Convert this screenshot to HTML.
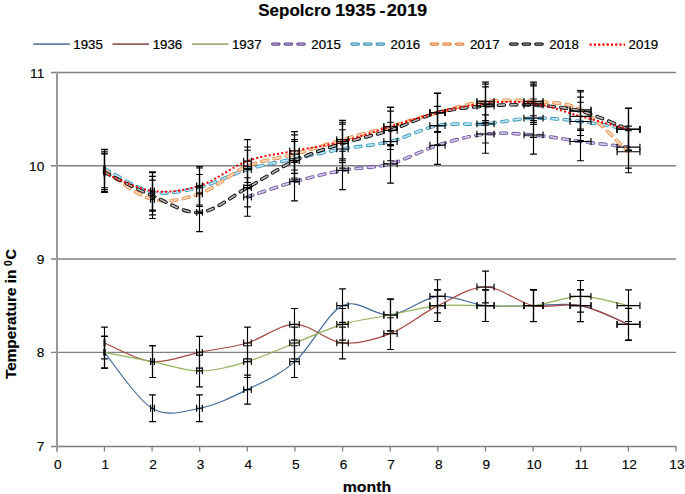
<!DOCTYPE html>
<html><head><meta charset="utf-8"><style>
html,body{margin:0;padding:0;background:#fff;width:685px;height:494px;overflow:hidden;font-family:"Liberation Sans",sans-serif;}
svg{display:block;}
</style></head><body>
<svg width="685" height="494" viewBox="0 0 685 494">
<path d="M51,72.48H676" stroke="#808080" stroke-width="1.3"/>
<path d="M51,165.75H676" stroke="#808080" stroke-width="1.3"/>
<path d="M51,259.02H676" stroke="#808080" stroke-width="1.3"/>
<path d="M51,352.29H676" stroke="#808080" stroke-width="1.3"/>
<path d="M51,446.50H676.5" stroke="#808080" stroke-width="1.3"/>
<path d="M56.80,446.50V451.50 M104.43,446.50V451.50 M152.06,446.50V451.50 M199.69,446.50V451.50 M247.32,446.50V451.50 M294.95,446.50V451.50 M342.58,446.50V451.50 M390.21,446.50V451.50 M437.84,446.50V451.50 M485.47,446.50V451.50 M533.10,446.50V451.50 M580.73,446.50V451.50 M628.36,446.50V451.50 M675.99,446.50V451.50" stroke="#808080" stroke-width="1.3"/>
<path d="M57,71.78V451.50" stroke="#9a9a9a" stroke-width="2"/>
<path d="M104.43,352.29 C112.37,361.62 136.18,398.92 152.06,408.25 C167.94,417.58 183.81,411.36 199.69,408.25 C215.57,405.14 231.44,397.37 247.32,389.60 C263.20,381.83 279.07,375.61 294.95,361.62 C310.83,347.63 326.70,313.43 342.58,305.65 C358.46,297.88 374.33,316.54 390.21,314.98 C406.09,313.43 421.96,297.88 437.84,296.33 C453.72,294.77 469.59,304.10 485.47,305.65 C501.35,307.21 517.22,305.65 533.10,305.65 C548.98,305.65 564.85,302.55 580.73,305.65 C596.61,308.76 620.42,321.20 628.36,324.31" stroke="#41699a" stroke-width="1.2" fill="none"/>
<path d="M104.50,336.43V368.15 M101.10,336.43H107.90 M101.10,368.15H107.90 M152.50,394.91V421.59 M149.10,394.91H155.90 M149.10,421.59H155.90 M150.59,408.25H154.41 M150.59,404.85V411.65 M154.41,404.85V411.65 M199.50,394.91V421.59 M196.10,394.91H202.90 M196.10,421.59H202.90 M196.64,408.25H202.36 M196.64,404.85V411.65 M202.36,404.85V411.65 M247.50,375.14V404.05 M244.10,375.14H250.90 M244.10,404.05H250.90 M243.69,389.60H251.31 M243.69,386.20V393.00 M251.31,386.20V393.00 M294.50,345.76V377.47 M291.10,345.76H297.90 M291.10,377.47H297.90 M289.74,361.62H299.26 M289.74,358.22V365.02 M299.26,358.22V365.02 M342.50,288.87V322.44 M339.10,288.87H345.90 M339.10,322.44H345.90 M336.78,305.65H348.22 M336.78,302.25V309.05 M348.22,302.25V309.05 M390.50,299.13V330.84 M387.10,299.13H393.90 M387.10,330.84H393.90 M383.83,314.98H397.17 M383.83,311.58V318.38 M397.17,311.58V318.38 M437.50,279.73V312.93 M434.10,279.73H440.90 M434.10,312.93H440.90 M429.88,296.33H445.12 M429.88,292.93V299.73 M445.12,292.93V299.73 M485.50,289.80V321.51 M482.10,289.80H488.90 M482.10,321.51H488.90 M476.93,305.65H494.07 M476.93,302.25V309.05 M494.07,302.25V309.05 M533.50,289.61V321.70 M530.10,289.61H536.90 M530.10,321.70H536.90 M523.97,305.65H543.03 M523.97,302.25V309.05 M543.03,302.25V309.05 M580.50,289.61V321.70 M577.10,289.61H583.90 M577.10,321.70H583.90 M570.02,305.65H590.98 M570.02,302.25V309.05 M590.98,302.25V309.05 M628.50,308.27V340.35 M625.10,308.27H631.90 M625.10,340.35H631.90 M617.07,324.31H639.93 M617.07,320.91V327.71 M639.93,320.91V327.71" stroke="#000" stroke-width="1.15" fill="none"/><path d="M103.85,348.89V355.69 M105.15,348.89V355.69" stroke="#000" stroke-width="0.7" fill="none"/>
<path d="M104.43,342.96 C112.37,346.07 136.18,360.06 152.06,361.62 C167.94,363.17 183.81,355.40 199.69,352.29 C215.57,349.18 231.44,347.63 247.32,342.96 C263.20,338.30 279.07,324.31 294.95,324.31 C310.83,324.31 326.70,341.41 342.58,342.96 C358.46,344.52 374.33,339.85 390.21,333.64 C406.09,327.42 421.96,313.43 437.84,305.65 C453.72,297.88 469.59,287.00 485.47,287.00 C501.35,287.00 517.22,302.55 533.10,305.65 C548.98,308.76 564.85,302.55 580.73,305.65 C596.61,308.76 620.42,321.20 628.36,324.31" stroke="#a8463f" stroke-width="1.2" fill="none"/>
<path d="M104.50,327.11V358.82 M101.10,327.11H107.90 M101.10,358.82H107.90 M152.50,345.76V377.47 M149.10,345.76H155.90 M149.10,377.47H155.90 M150.59,361.62H154.41 M150.59,358.22V365.02 M154.41,358.22V365.02 M199.50,336.43V368.15 M196.10,336.43H202.90 M196.10,368.15H202.90 M196.64,352.29H202.36 M196.64,348.89V355.69 M202.36,348.89V355.69 M247.50,327.11V358.82 M244.10,327.11H250.90 M244.10,358.82H250.90 M243.69,342.96H251.31 M243.69,339.56V346.36 M251.31,339.56V346.36 M294.50,308.45V340.16 M291.10,308.45H297.90 M291.10,340.16H297.90 M289.74,324.31H299.26 M289.74,320.91V327.71 M299.26,320.91V327.71 M342.50,327.11V358.82 M339.10,327.11H345.90 M339.10,358.82H345.90 M336.78,342.96H348.22 M336.78,339.56V346.36 M348.22,339.56V346.36 M390.50,317.78V349.49 M387.10,317.78H393.90 M387.10,349.49H393.90 M383.83,333.64H397.17 M383.83,330.24V337.04 M397.17,330.24V337.04 M437.50,289.80V321.51 M434.10,289.80H440.90 M434.10,321.51H440.90 M429.88,305.65H445.12 M429.88,302.25V309.05 M445.12,302.25V309.05 M485.50,271.15V302.86 M482.10,271.15H488.90 M482.10,302.86H488.90 M476.93,287.00H494.07 M476.93,283.60V290.40 M494.07,283.60V290.40 M533.50,289.80V321.51 M530.10,289.80H536.90 M530.10,321.51H536.90 M523.97,305.65H543.03 M523.97,302.25V309.05 M543.03,302.25V309.05 M580.50,289.80V321.51 M577.10,289.80H583.90 M577.10,321.51H583.90 M570.02,305.65H590.98 M570.02,302.25V309.05 M590.98,302.25V309.05 M628.50,308.45V340.16 M625.10,308.45H631.90 M625.10,340.16H631.90 M617.07,324.31H639.93 M617.07,320.91V327.71 M639.93,320.91V327.71" stroke="#000" stroke-width="1.15" fill="none"/><path d="M103.85,339.56V346.36 M105.15,339.56V346.36" stroke="#000" stroke-width="0.7" fill="none"/>
<path d="M104.43,352.29 C112.37,353.84 136.18,358.51 152.06,361.62 C167.94,364.73 183.81,370.94 199.69,370.94 C215.57,370.94 231.44,366.28 247.32,361.62 C263.20,356.95 279.07,349.18 294.95,342.96 C310.83,336.75 326.70,328.97 342.58,324.31 C358.46,319.65 374.33,318.09 390.21,314.98 C406.09,311.87 421.96,307.21 437.84,305.65 C453.72,304.10 469.59,305.65 485.47,305.65 C501.35,305.65 517.22,307.21 533.10,305.65 C548.98,304.10 564.85,296.33 580.73,296.33 C596.61,296.33 620.42,304.10 628.36,305.65" stroke="#92b05a" stroke-width="1.2" fill="none"/>
<path d="M104.50,336.43V368.15 M101.10,336.43H107.90 M101.10,368.15H107.90 M152.50,345.76V377.47 M149.10,345.76H155.90 M149.10,377.47H155.90 M150.59,361.62H154.41 M150.59,358.22V365.02 M154.41,358.22V365.02 M199.50,355.09V386.80 M196.10,355.09H202.90 M196.10,386.80H202.90 M196.64,370.94H202.36 M196.64,367.54V374.34 M202.36,367.54V374.34 M247.50,345.76V377.47 M244.10,345.76H250.90 M244.10,377.47H250.90 M243.69,361.62H251.31 M243.69,358.22V365.02 M251.31,358.22V365.02 M294.50,327.11V358.82 M291.10,327.11H297.90 M291.10,358.82H297.90 M289.74,342.96H299.26 M289.74,339.56V346.36 M299.26,339.56V346.36 M342.50,308.45V340.16 M339.10,308.45H345.90 M339.10,340.16H345.90 M336.78,324.31H348.22 M336.78,320.91V327.71 M348.22,320.91V327.71 M390.50,299.13V330.84 M387.10,299.13H393.90 M387.10,330.84H393.90 M383.83,314.98H397.17 M383.83,311.58V318.38 M397.17,311.58V318.38 M437.50,289.80V321.51 M434.10,289.80H440.90 M434.10,321.51H440.90 M429.88,305.65H445.12 M429.88,302.25V309.05 M445.12,302.25V309.05 M485.50,289.80V321.51 M482.10,289.80H488.90 M482.10,321.51H488.90 M476.93,305.65H494.07 M476.93,302.25V309.05 M494.07,302.25V309.05 M533.50,289.80V321.51 M530.10,289.80H536.90 M530.10,321.51H536.90 M523.97,305.65H543.03 M523.97,302.25V309.05 M543.03,302.25V309.05 M580.50,280.47V312.18 M577.10,280.47H583.90 M577.10,312.18H583.90 M570.02,296.33H590.98 M570.02,292.93V299.73 M590.98,292.93V299.73 M628.50,289.80V321.51 M625.10,289.80H631.90 M625.10,321.51H631.90 M617.07,305.65H639.93 M617.07,302.25V309.05 M639.93,302.25V309.05" stroke="#000" stroke-width="1.15" fill="none"/><path d="M103.85,348.89V355.69 M105.15,348.89V355.69" stroke="#000" stroke-width="0.7" fill="none"/>
<path d="M247.32,197.00 C255.26,194.43 279.07,186.04 294.95,181.61 C310.83,177.18 326.70,173.37 342.58,170.41 C358.46,167.46 374.33,168.08 390.21,163.88 C406.09,159.69 421.96,150.20 437.84,145.23 C453.72,140.26 469.59,135.75 485.47,134.04 C501.35,132.33 517.22,133.73 533.10,134.97 C548.98,136.21 564.85,139.48 580.73,141.50 C596.61,143.52 620.42,146.16 628.36,147.10" stroke="#6a4f9c" stroke-width="3.5" stroke-linecap="round" stroke-dasharray="5.9 6.6" fill="none"/>
<path d="M247.32,197.00 C255.26,194.43 279.07,186.04 294.95,181.61 C310.83,177.18 326.70,173.37 342.58,170.41 C358.46,167.46 374.33,168.08 390.21,163.88 C406.09,159.69 421.96,150.20 437.84,145.23 C453.72,140.26 469.59,135.75 485.47,134.04 C501.35,132.33 517.22,133.73 533.10,134.97 C548.98,136.21 564.85,139.48 580.73,141.50 C596.61,143.52 620.42,146.16 628.36,147.10" stroke="#d6cceb" stroke-width="1.8" stroke-linecap="round" stroke-dasharray="5.9 6.6" fill="none"/>
<path d="M247.50,177.78V216.21 M244.10,177.78H250.90 M244.10,216.21H250.90 M243.69,197.00H251.31 M243.69,193.60V200.40 M251.31,193.60V200.40 M294.50,162.39V200.82 M291.10,162.39H297.90 M291.10,200.82H297.90 M289.74,181.61H299.26 M289.74,178.21V185.01 M299.26,178.21V185.01 M342.50,151.20V189.63 M339.10,151.20H345.90 M339.10,189.63H345.90 M336.78,170.41H348.22 M336.78,167.01V173.81 M348.22,167.01V173.81 M390.50,144.67V183.10 M387.10,144.67H393.90 M387.10,183.10H393.90 M383.83,163.88H397.17 M383.83,160.48V167.28 M397.17,160.48V167.28 M437.50,126.02V164.44 M434.10,126.02H440.90 M434.10,164.44H440.90 M429.88,145.23H445.12 M429.88,141.83V148.63 M445.12,141.83V148.63 M485.50,114.82V153.25 M482.10,114.82H488.90 M482.10,153.25H488.90 M476.93,134.04H494.07 M476.93,130.64V137.44 M494.07,130.64V137.44 M533.50,115.76V154.18 M530.10,115.76H536.90 M530.10,154.18H536.90 M523.97,134.97H543.03 M523.97,131.57V138.37 M543.03,131.57V138.37 M580.50,122.29V160.71 M577.10,122.29H583.90 M577.10,160.71H583.90 M570.02,141.50H590.98 M570.02,138.10V144.90 M590.98,138.10V144.90 M628.50,126.11V168.08 M625.10,126.11H631.90 M625.10,168.08H631.90 M617.07,147.10H639.93 M617.07,143.70V150.50 M639.93,143.70V150.50" stroke="#000" stroke-width="1.15" fill="none"/>
<path d="M104.43,168.55 C112.37,172.43 136.18,188.76 152.06,191.87 C167.94,194.97 183.81,190.93 199.69,187.20 C215.57,183.47 231.44,174.22 247.32,169.48 C263.20,164.74 279.07,162.17 294.95,158.75 C310.83,155.33 326.70,151.84 342.58,148.96 C358.46,146.09 374.33,145.39 390.21,141.50 C406.09,137.61 421.96,128.60 437.84,125.64 C453.72,122.69 469.59,125.02 485.47,123.78 C501.35,122.53 517.22,118.57 533.10,118.18 C548.98,117.79 564.85,119.58 580.73,121.45 C596.61,123.31 620.42,128.05 628.36,129.37" stroke="#3597bd" stroke-width="3.5" stroke-linecap="round" stroke-dasharray="5.9 6.6" fill="none"/>
<path d="M104.43,168.55 C112.37,172.43 136.18,188.76 152.06,191.87 C167.94,194.97 183.81,190.93 199.69,187.20 C215.57,183.47 231.44,174.22 247.32,169.48 C263.20,164.74 279.07,162.17 294.95,158.75 C310.83,155.33 326.70,151.84 342.58,148.96 C358.46,146.09 374.33,145.39 390.21,141.50 C406.09,137.61 421.96,128.60 437.84,125.64 C453.72,122.69 469.59,125.02 485.47,123.78 C501.35,122.53 517.22,118.57 533.10,118.18 C548.98,117.79 564.85,119.58 580.73,121.45 C596.61,123.31 620.42,128.05 628.36,129.37" stroke="#c0e4f0" stroke-width="1.8" stroke-linecap="round" stroke-dasharray="5.9 6.6" fill="none"/>
<path d="M104.50,149.33V187.76 M101.10,149.33H107.90 M101.10,187.76H107.90 M152.50,172.65V211.08 M149.10,172.65H155.90 M149.10,211.08H155.90 M150.59,191.87H154.41 M150.59,188.47V195.27 M154.41,188.47V195.27 M199.50,167.99V206.42 M196.10,167.99H202.90 M196.10,206.42H202.90 M196.64,187.20H202.36 M196.64,183.80V190.60 M202.36,183.80V190.60 M247.50,150.27V188.69 M244.10,150.27H250.90 M244.10,188.69H250.90 M243.69,169.48H251.31 M243.69,166.08V172.88 M251.31,166.08V172.88 M294.50,139.54V177.97 M291.10,139.54H297.90 M291.10,177.97H297.90 M289.74,158.75H299.26 M289.74,155.35V162.15 M299.26,155.35V162.15 M342.50,129.75V168.18 M339.10,129.75H345.90 M339.10,168.18H345.90 M336.78,148.96H348.22 M336.78,145.56V152.36 M348.22,145.56V152.36 M390.50,122.29V160.71 M387.10,122.29H393.90 M387.10,160.71H393.90 M383.83,141.50H397.17 M383.83,138.10V144.90 M397.17,138.10V144.90 M437.50,106.43V144.86 M434.10,106.43H440.90 M434.10,144.86H440.90 M429.88,125.64H445.12 M429.88,122.24V129.04 M445.12,122.24V129.04 M485.50,104.56V142.99 M482.10,104.56H488.90 M482.10,142.99H488.90 M476.93,123.78H494.07 M476.93,120.38V127.18 M494.07,120.38V127.18 M533.50,98.97V137.40 M530.10,98.97H536.90 M530.10,137.40H536.90 M523.97,118.18H543.03 M523.97,114.78V121.58 M543.03,114.78V121.58 M580.50,102.23V140.66 M577.10,102.23H583.90 M577.10,140.66H583.90 M570.02,121.45H590.98 M570.02,118.05V124.85 M590.98,118.05V124.85 M628.50,108.39V150.36 M625.10,108.39H631.90 M625.10,150.36H631.90 M617.07,129.37H639.93 M617.07,125.97V132.77 M639.93,125.97V132.77" stroke="#000" stroke-width="1.15" fill="none"/><path d="M103.85,165.15V171.95 M105.15,165.15V171.95" stroke="#000" stroke-width="0.7" fill="none"/>
<path d="M104.43,170.41 C112.37,175.23 136.18,195.44 152.06,199.33 C167.94,203.21 183.81,199.25 199.69,193.73 C215.57,188.21 231.44,172.82 247.32,166.22 C263.20,159.61 279.07,158.52 294.95,154.09 C310.83,149.66 326.70,144.22 342.58,139.63 C358.46,135.05 374.33,131.08 390.21,126.58 C406.09,122.07 421.96,116.78 437.84,112.59 C453.72,108.39 469.59,103.26 485.47,101.39 C501.35,99.53 517.22,99.99 533.10,101.39 C548.98,102.79 564.85,101.39 580.73,109.79 C596.61,118.18 620.42,144.76 628.36,151.76" stroke="#ec8a42" stroke-width="3.5" stroke-linecap="round" stroke-dasharray="5.9 6.6" fill="none"/>
<path d="M104.43,170.41 C112.37,175.23 136.18,195.44 152.06,199.33 C167.94,203.21 183.81,199.25 199.69,193.73 C215.57,188.21 231.44,172.82 247.32,166.22 C263.20,159.61 279.07,158.52 294.95,154.09 C310.83,149.66 326.70,144.22 342.58,139.63 C358.46,135.05 374.33,131.08 390.21,126.58 C406.09,122.07 421.96,116.78 437.84,112.59 C453.72,108.39 469.59,103.26 485.47,101.39 C501.35,99.53 517.22,99.99 533.10,101.39 C548.98,102.79 564.85,101.39 580.73,109.79 C596.61,118.18 620.42,144.76 628.36,151.76" stroke="#fbdcc4" stroke-width="1.8" stroke-linecap="round" stroke-dasharray="5.9 6.6" fill="none"/>
<path d="M104.50,151.20V189.63 M101.10,151.20H107.90 M101.10,189.63H107.90 M152.50,180.11V218.54 M149.10,180.11H155.90 M149.10,218.54H155.90 M150.59,199.33H154.41 M150.59,195.93V202.73 M154.41,195.93V202.73 M199.50,174.52V212.94 M196.10,174.52H202.90 M196.10,212.94H202.90 M196.64,193.73H202.36 M196.64,190.33V197.13 M202.36,190.33V197.13 M247.50,147.00V185.43 M244.10,147.00H250.90 M244.10,185.43H250.90 M243.69,166.22H251.31 M243.69,162.82V169.62 M251.31,162.82V169.62 M294.50,134.88V173.30 M291.10,134.88H297.90 M291.10,173.30H297.90 M289.74,154.09H299.26 M289.74,150.69V157.49 M299.26,150.69V157.49 M342.50,120.42V158.85 M339.10,120.42H345.90 M339.10,158.85H345.90 M336.78,139.63H348.22 M336.78,136.23V143.03 M348.22,136.23V143.03 M390.50,107.36V145.79 M387.10,107.36H393.90 M387.10,145.79H393.90 M383.83,126.58H397.17 M383.83,123.18V129.98 M397.17,123.18V129.98 M437.50,93.37V131.80 M434.10,93.37H440.90 M434.10,131.80H440.90 M429.88,112.59H445.12 M429.88,109.19V115.99 M445.12,109.19V115.99 M485.50,82.18V120.61 M482.10,82.18H488.90 M482.10,120.61H488.90 M476.93,101.39H494.07 M476.93,97.99V104.79 M494.07,97.99V104.79 M533.50,82.18V120.61 M530.10,82.18H536.90 M530.10,120.61H536.90 M523.97,101.39H543.03 M523.97,97.99V104.79 M543.03,97.99V104.79 M580.50,90.57V129.00 M577.10,90.57H583.90 M577.10,129.00H583.90 M570.02,109.79H590.98 M570.02,106.39V113.19 M590.98,106.39V113.19 M628.50,130.77V172.75 M625.10,130.77H631.90 M625.10,172.75H631.90 M617.07,151.76H639.93 M617.07,148.36V155.16 M639.93,148.36V155.16" stroke="#000" stroke-width="1.15" fill="none"/><path d="M103.85,167.01V173.81 M105.15,167.01V173.81" stroke="#000" stroke-width="0.7" fill="none"/>
<path d="M104.43,172.28 C112.37,176.17 136.18,188.91 152.06,195.60 C167.94,202.28 183.81,213.71 199.69,212.38 C215.57,211.06 231.44,196.30 247.32,187.67 C263.20,179.04 279.07,168.00 294.95,160.62 C310.83,153.24 326.70,148.42 342.58,143.37 C358.46,138.31 374.33,135.44 390.21,130.31 C406.09,125.18 421.96,116.63 437.84,112.59 C453.72,108.54 469.59,107.30 485.47,106.06 C501.35,104.81 517.22,104.27 533.10,105.12 C548.98,105.98 564.85,107.15 580.73,111.19 C596.61,115.23 620.42,126.34 628.36,129.37" stroke="#000000" stroke-width="3.5" stroke-linecap="round" stroke-dasharray="5.9 6.6" fill="none"/>
<path d="M104.43,172.28 C112.37,176.17 136.18,188.91 152.06,195.60 C167.94,202.28 183.81,213.71 199.69,212.38 C215.57,211.06 231.44,196.30 247.32,187.67 C263.20,179.04 279.07,168.00 294.95,160.62 C310.83,153.24 326.70,148.42 342.58,143.37 C358.46,138.31 374.33,135.44 390.21,130.31 C406.09,125.18 421.96,116.63 437.84,112.59 C453.72,108.54 469.59,107.30 485.47,106.06 C501.35,104.81 517.22,104.27 533.10,105.12 C548.98,105.98 564.85,107.15 580.73,111.19 C596.61,115.23 620.42,126.34 628.36,129.37" stroke="#b4b4b4" stroke-width="1.8" stroke-linecap="round" stroke-dasharray="5.9 6.6" fill="none"/>
<path d="M104.50,153.07V191.49 M101.10,153.07H107.90 M101.10,191.49H107.90 M152.50,176.38V214.81 M149.10,176.38H155.90 M149.10,214.81H155.90 M150.59,195.60H154.41 M150.59,192.20V199.00 M154.41,192.20V199.00 M199.50,193.17V231.60 M196.10,193.17H202.90 M196.10,231.60H202.90 M196.64,212.38H202.36 M196.64,208.98V215.78 M202.36,208.98V215.78 M247.50,168.45V206.88 M244.10,168.45H250.90 M244.10,206.88H250.90 M243.69,187.67H251.31 M243.69,184.27V191.07 M251.31,184.27V191.07 M294.50,141.41V179.83 M291.10,141.41H297.90 M291.10,179.83H297.90 M289.74,160.62H299.26 M289.74,157.22V164.02 M299.26,157.22V164.02 M342.50,124.15V162.58 M339.10,124.15H345.90 M339.10,162.58H345.90 M336.78,143.37H348.22 M336.78,139.97V146.77 M348.22,139.97V146.77 M390.50,111.09V149.52 M387.10,111.09H393.90 M387.10,149.52H393.90 M383.83,130.31H397.17 M383.83,126.91V133.71 M397.17,126.91V133.71 M437.50,93.37V131.80 M434.10,93.37H440.90 M434.10,131.80H440.90 M429.88,112.59H445.12 M429.88,109.19V115.99 M445.12,109.19V115.99 M485.50,86.84V125.27 M482.10,86.84H488.90 M482.10,125.27H488.90 M476.93,106.06H494.07 M476.93,102.66V109.46 M494.07,102.66V109.46 M533.50,85.91V124.34 M530.10,85.91H536.90 M530.10,124.34H536.90 M523.97,105.12H543.03 M523.97,101.72V108.52 M543.03,101.72V108.52 M580.50,91.97V130.40 M577.10,91.97H583.90 M577.10,130.40H583.90 M570.02,111.19H590.98 M570.02,107.79V114.59 M590.98,107.79V114.59 M628.50,108.39V150.36 M625.10,108.39H631.90 M625.10,150.36H631.90 M617.07,129.37H639.93 M617.07,125.97V132.77 M639.93,125.97V132.77" stroke="#000" stroke-width="1.15" fill="none"/><path d="M103.85,168.88V175.68 M105.15,168.88V175.68" stroke="#000" stroke-width="0.7" fill="none"/>
<path d="M104.43,173.21 C112.37,176.17 136.18,188.83 152.06,190.93 C167.94,193.03 183.81,190.78 199.69,185.80 C215.57,180.83 231.44,166.92 247.32,161.09 C263.20,155.26 279.07,154.09 294.95,150.83 C310.83,147.56 326.70,145.54 342.58,141.50 C358.46,137.46 374.33,131.40 390.21,126.58 C406.09,121.76 421.96,116.47 437.84,112.59 C453.72,108.70 469.59,104.81 485.47,103.26 C501.35,101.70 517.22,101.08 533.10,103.26 C548.98,105.44 564.85,111.96 580.73,116.32 C596.61,120.67 620.42,127.20 628.36,129.37" stroke="#ff0000" stroke-width="2.0" stroke-dasharray="2.0 2.27" fill="none"/>
<path d="M104.50,154.00V192.43 M101.10,154.00H107.90 M101.10,192.43H107.90 M152.50,171.72V210.15 M149.10,171.72H155.90 M149.10,210.15H155.90 M150.59,190.93H154.41 M150.59,187.53V194.33 M154.41,187.53V194.33 M199.50,166.59V205.02 M196.10,166.59H202.90 M196.10,205.02H202.90 M196.64,185.80H202.36 M196.64,182.40V189.20 M202.36,182.40V189.20 M247.50,139.63V182.54 M244.10,139.63H250.90 M244.10,182.54H250.90 M243.69,161.09H251.31 M243.69,157.69V164.49 M251.31,157.69V164.49 M294.50,131.61V170.04 M291.10,131.61H297.90 M291.10,170.04H297.90 M289.74,150.83H299.26 M289.74,147.43V154.23 M299.26,147.43V154.23 M342.50,122.29V160.71 M339.10,122.29H345.90 M339.10,160.71H345.90 M336.78,141.50H348.22 M336.78,138.10V144.90 M348.22,138.10V144.90 M390.50,107.36V145.79 M387.10,107.36H393.90 M387.10,145.79H393.90 M383.83,126.58H397.17 M383.83,123.18V129.98 M397.17,123.18V129.98 M437.50,93.37V131.80 M434.10,93.37H440.90 M434.10,131.80H440.90 M429.88,112.59H445.12 M429.88,109.19V115.99 M445.12,109.19V115.99 M485.50,84.05V122.47 M482.10,84.05H488.90 M482.10,122.47H488.90 M476.93,103.26H494.07 M476.93,99.86V106.66 M494.07,99.86V106.66 M533.50,84.05V122.47 M530.10,84.05H536.90 M530.10,122.47H536.90 M523.97,103.26H543.03 M523.97,99.86V106.66 M543.03,99.86V106.66 M580.50,97.10V135.53 M577.10,97.10H583.90 M577.10,135.53H583.90 M570.02,116.32H590.98 M570.02,112.92V119.72 M590.98,112.92V119.72 M628.50,108.39V150.36 M625.10,108.39H631.90 M625.10,150.36H631.90 M617.07,129.37H639.93 M617.07,125.97V132.77 M639.93,125.97V132.77" stroke="#000" stroke-width="1.15" fill="none"/><path d="M103.85,169.81V176.61 M105.15,169.81V176.61" stroke="#000" stroke-width="0.7" fill="none"/>
<text transform="translate(44.3,77.68) scale(1.12,1)" text-anchor="end" font-size="12.2" stroke="#000" stroke-width="0.12" font-family="Liberation Sans, sans-serif">11</text>
<text transform="translate(44.3,170.95) scale(1.12,1)" text-anchor="end" font-size="12.2" stroke="#000" stroke-width="0.12" font-family="Liberation Sans, sans-serif">10</text>
<text transform="translate(44.3,264.22) scale(1.12,1)" text-anchor="end" font-size="12.2" stroke="#000" stroke-width="0.12" font-family="Liberation Sans, sans-serif">9</text>
<text transform="translate(44.3,357.49) scale(1.12,1)" text-anchor="end" font-size="12.2" stroke="#000" stroke-width="0.12" font-family="Liberation Sans, sans-serif">8</text>
<text transform="translate(44.3,450.76) scale(1.12,1)" text-anchor="end" font-size="12.2" stroke="#000" stroke-width="0.12" font-family="Liberation Sans, sans-serif">7</text>
<text transform="translate(57.70,468.6) scale(1.12,1)" text-anchor="middle" font-size="12.2" stroke="#000" stroke-width="0.12" font-family="Liberation Sans, sans-serif">0</text>
<text transform="translate(105.33,468.6) scale(1.12,1)" text-anchor="middle" font-size="12.2" stroke="#000" stroke-width="0.12" font-family="Liberation Sans, sans-serif">1</text>
<text transform="translate(152.96,468.6) scale(1.12,1)" text-anchor="middle" font-size="12.2" stroke="#000" stroke-width="0.12" font-family="Liberation Sans, sans-serif">2</text>
<text transform="translate(200.59,468.6) scale(1.12,1)" text-anchor="middle" font-size="12.2" stroke="#000" stroke-width="0.12" font-family="Liberation Sans, sans-serif">3</text>
<text transform="translate(248.22,468.6) scale(1.12,1)" text-anchor="middle" font-size="12.2" stroke="#000" stroke-width="0.12" font-family="Liberation Sans, sans-serif">4</text>
<text transform="translate(295.85,468.6) scale(1.12,1)" text-anchor="middle" font-size="12.2" stroke="#000" stroke-width="0.12" font-family="Liberation Sans, sans-serif">5</text>
<text transform="translate(343.48,468.6) scale(1.12,1)" text-anchor="middle" font-size="12.2" stroke="#000" stroke-width="0.12" font-family="Liberation Sans, sans-serif">6</text>
<text transform="translate(391.11,468.6) scale(1.12,1)" text-anchor="middle" font-size="12.2" stroke="#000" stroke-width="0.12" font-family="Liberation Sans, sans-serif">7</text>
<text transform="translate(438.74,468.6) scale(1.12,1)" text-anchor="middle" font-size="12.2" stroke="#000" stroke-width="0.12" font-family="Liberation Sans, sans-serif">8</text>
<text transform="translate(486.37,468.6) scale(1.12,1)" text-anchor="middle" font-size="12.2" stroke="#000" stroke-width="0.12" font-family="Liberation Sans, sans-serif">9</text>
<text transform="translate(534.00,468.6) scale(1.12,1)" text-anchor="middle" font-size="12.2" stroke="#000" stroke-width="0.12" font-family="Liberation Sans, sans-serif">10</text>
<text transform="translate(581.63,468.6) scale(1.12,1)" text-anchor="middle" font-size="12.2" stroke="#000" stroke-width="0.12" font-family="Liberation Sans, sans-serif">11</text>
<text transform="translate(629.26,468.6) scale(1.12,1)" text-anchor="middle" font-size="12.2" stroke="#000" stroke-width="0.12" font-family="Liberation Sans, sans-serif">12</text>
<text transform="translate(676.89,468.6) scale(1.12,1)" text-anchor="middle" font-size="12.2" stroke="#000" stroke-width="0.12" font-family="Liberation Sans, sans-serif">13</text>
<text transform="translate(342.7,492.2) scale(1.06,1)" font-size="15" font-weight="bold" stroke="#000" stroke-width="0.15" font-family="Liberation Sans, sans-serif">month</text>
<text transform="translate(258.3,15.5) scale(1.088,1)" font-size="15.6" font-weight="bold" stroke="#000" stroke-width="0.15" font-family="Liberation Sans, sans-serif">Sepolcro</text>
<text transform="translate(334.9,15.5) scale(1.178,1)" font-size="15.6" font-weight="bold" stroke="#000" stroke-width="0.15" font-family="Liberation Sans, sans-serif">1935</text>
<text transform="translate(379.6,15.5) scale(1.15,1)" font-size="15.6" font-weight="bold" stroke="#000" stroke-width="0.15" font-family="Liberation Sans, sans-serif">-</text>
<text transform="translate(386.7,15.5) scale(1.168,1)" font-size="15.6" font-weight="bold" stroke="#000" stroke-width="0.15" font-family="Liberation Sans, sans-serif">2019</text>
<text transform="translate(16.2,379) rotate(-90) scale(1.07,1)" font-size="14.3" font-weight="bold" stroke="#000" stroke-width="0.15" font-family="Liberation Sans, sans-serif">Temperature in</text>
<text transform="translate(11.8,266) rotate(-90)" font-size="10" font-weight="bold" stroke="#000" stroke-width="0.15" font-family="Liberation Sans, sans-serif">0</text>
<text transform="translate(16.2,259.6) rotate(-90)" font-size="14.3" font-weight="bold" stroke="#000" stroke-width="0.15" font-family="Liberation Sans, sans-serif">C</text>
<path d="M33.20,44.10H69.70" stroke="#66809f" stroke-width="1.7"/>
<text transform="translate(73.30,48.80) scale(1.1,1)" font-size="12.1" stroke="#000" stroke-width="0.2" font-family="Liberation Sans, sans-serif">1935</text>
<path d="M112.53,44.10H149.03" stroke="#935e5c" stroke-width="1.7"/>
<text transform="translate(152.63,48.80) scale(1.1,1)" font-size="12.1" stroke="#000" stroke-width="0.2" font-family="Liberation Sans, sans-serif">1936</text>
<path d="M191.86,44.10H228.36" stroke="#9cae7a" stroke-width="1.7"/>
<text transform="translate(231.96,48.80) scale(1.1,1)" font-size="12.1" stroke="#000" stroke-width="0.2" font-family="Liberation Sans, sans-serif">1937</text>
<path d="M272.69,44.10H307.69" stroke="#5e4490" stroke-width="3.4" stroke-linecap="round" stroke-dasharray="6.2 6.4"/>
<path d="M272.69,44.10H307.69" stroke="#b0a2d0" stroke-width="1.2" stroke-linecap="round" stroke-dasharray="6.2 6.4"/>
<text transform="translate(311.29,48.80) scale(1.1,1)" font-size="12.1" stroke="#000" stroke-width="0.2" font-family="Liberation Sans, sans-serif">2015</text>
<path d="M352.02,44.10H387.02" stroke="#2f8cb0" stroke-width="3.4" stroke-linecap="round" stroke-dasharray="6.2 6.4"/>
<path d="M352.02,44.10H387.02" stroke="#a8d6e6" stroke-width="1.2" stroke-linecap="round" stroke-dasharray="6.2 6.4"/>
<text transform="translate(390.62,48.80) scale(1.1,1)" font-size="12.1" stroke="#000" stroke-width="0.2" font-family="Liberation Sans, sans-serif">2016</text>
<path d="M431.35,44.10H466.35" stroke="#e07e38" stroke-width="3.4" stroke-linecap="round" stroke-dasharray="6.2 6.4"/>
<path d="M431.35,44.10H466.35" stroke="#f6c8a4" stroke-width="1.2" stroke-linecap="round" stroke-dasharray="6.2 6.4"/>
<text transform="translate(469.95,48.80) scale(1.1,1)" font-size="12.1" stroke="#000" stroke-width="0.2" font-family="Liberation Sans, sans-serif">2017</text>
<path d="M510.68,44.10H545.68" stroke="#000000" stroke-width="3.4" stroke-linecap="round" stroke-dasharray="6.2 6.4"/>
<path d="M510.68,44.10H545.68" stroke="#9a9a9a" stroke-width="1.2" stroke-linecap="round" stroke-dasharray="6.2 6.4"/>
<text transform="translate(549.28,48.80) scale(1.1,1)" font-size="12.1" stroke="#000" stroke-width="0.2" font-family="Liberation Sans, sans-serif">2018</text>
<path d="M589.51,44.60H625.01" stroke="#ff0000" stroke-width="2.2" stroke-dasharray="2.2 2.07"/>
<text transform="translate(628.61,48.80) scale(1.1,1)" font-size="12.1" stroke="#000" stroke-width="0.2" font-family="Liberation Sans, sans-serif">2019</text>
</svg>
</body></html>
